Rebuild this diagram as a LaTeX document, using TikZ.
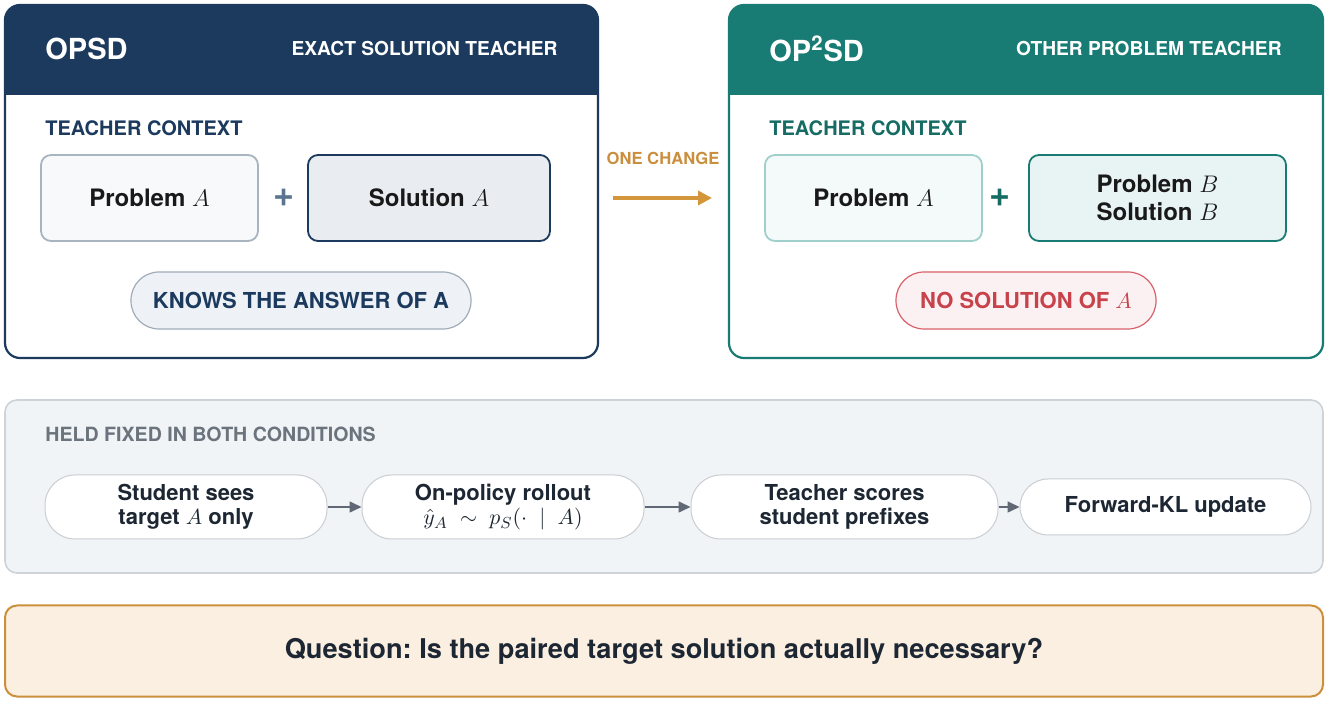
\documentclass[tikz,border=0pt]{standalone}
\usepackage{fontspec}
\setmainfont{TeX Gyre Heros}
\usetikzlibrary{arrows.meta}
\frenchspacing
\definecolor{navy}{HTML}{1B3A5E}
\definecolor{teal}{HTML}{187C74}
\definecolor{tealdk}{HTML}{166C64}
\definecolor{plusgray}{HTML}{5B7490}
\definecolor{orng}{HTML}{D4963A}
\definecolor{orngtxt}{HTML}{C98F3E}
\definecolor{redtxt}{HTML}{C8424C}
\definecolor{redline}{HTML}{D9606A}
\definecolor{redfill}{HTML}{FCF1F2}
\definecolor{panelfill}{HTML}{F1F4F7}
\definecolor{panelline}{HTML}{CDD3D8}
\definecolor{heldtxt}{HTML}{6B737C}
\definecolor{pillline}{HTML}{C9CED3}
\definecolor{darktxt}{HTML}{1D2733}
\definecolor{arrgray}{HTML}{5F6874}
\definecolor{qfill}{HTML}{FBEFE2}
\definecolor{qline}{HTML}{CC8F3B}
\definecolor{lpfill}{HTML}{F7F9FB}
\definecolor{lpline}{HTML}{A8B4C0}
\definecolor{lsfill}{HTML}{E9EDF1}
\definecolor{knfill}{HTML}{EEF1F5}
\definecolor{knline}{HTML}{A0ACB9}
\definecolor{rpfill}{HTML}{F4FAFA}
\definecolor{rpline}{HTML}{9FD0CC}
\definecolor{rsfill}{HTML}{E8F3F3}
\begin{document}
\begin{tikzpicture}[x=0.5pt,y=-0.5pt,font=\bfseries,
  txt/.style={inner sep=0pt},
  titletxt/.style={txt,text=white,font=\fontsize{14.5}{16}\selectfont\bfseries},
  subtxt/.style={txt,text=white,font=\fontsize{9.6}{11}\selectfont\bfseries},
  ctxtxt/.style={txt,font=\fontsize{10}{12}\selectfont\bfseries},
  plustxt/.style={txt,font=\fontsize{18}{18}\selectfont\bfseries},
  ctxbox/.style={rounded corners=5pt,minimum height=43pt,line width=0.9pt,
     text=black!90,font=\fontsize{12}{14}\selectfont\bfseries,align=center},
  badge/.style={rounded corners=14pt,minimum height=28.5pt,line width=0.6pt,
     font=\fontsize{11}{13}\selectfont\bfseries},
  steppill/.style={rounded corners=15pt,minimum height=32pt,line width=0.5pt,
     draw=pillline,fill=white,text=darktxt,align=center,inner sep=2pt,
     font=\fontsize{11}{12.2}\selectfont\bfseries},
  flowarr/.style={draw=arrgray,line width=0.8pt,-{Triangle[length=6pt,width=5.5pt]}}
  ]
\useasboundingbox (0,0) rectangle (1332,704);

% ---------- left panel ----------
\filldraw[fill=white,draw=navy,line width=1.1pt,rounded corners=7.5pt] (5,5) rectangle (598,358);
\fill[navy,rounded corners=7.5pt] (5,5) rectangle (598,95);
\fill[navy] (5,60) rectangle (598,95);
\node[titletxt,anchor=west] (lt) at (45,49) {OPSD};
\node[subtxt,anchor=east] (ls) at (558,49) {EXACT SOLUTION TEACHER};
\node[ctxtxt,text=navy,anchor=west] (lc) at (45,128) {TEACHER CONTEXT};
\node[ctxbox,draw=lpline,fill=lpfill,minimum width=108.5pt] (lpa) at (149.5,198) {Problem $A$};
\node[plustxt,text=plusgray] (lplus) at (284,198) {+};
\node[ctxbox,draw=navy,fill=lsfill,minimum width=121pt] (lsa) at (429,198) {Solution $A$};
\node[badge,draw=knline,fill=knfill,text=navy,minimum width=170pt] (know) at (301,300.5) {KNOWS THE ANSWER OF A};

% ---------- change arrow ----------
\coordinate (chs) at (613,198);
\coordinate (che) at (712,198);
\draw[orng,line width=1.8pt,-{Triangle[length=7pt,width=7pt]}] (chs) -- (che);
\node[txt,text=orngtxt,font=\fontsize{8.3}{10}\selectfont\bfseries] (chg) at (663,158) {ONE CHANGE};

% ---------- right panel ----------
\filldraw[fill=white,draw=teal,line width=1.1pt,rounded corners=7.5pt] (729,5) rectangle (1323,358);
\fill[teal,rounded corners=7.5pt] (729,5) rectangle (1323,95);
\fill[teal] (729,60) rectangle (1323,95);
\node[titletxt,anchor=west] (rt) at (769,49) {OP\textsuperscript{2}SD};
\node[subtxt,anchor=east] (rs) at (1282,49) {OTHER PROBLEM TEACHER};
\node[ctxtxt,text=tealdk,anchor=west] (rc) at (769,128) {TEACHER CONTEXT};
\node[ctxbox,draw=rpline,fill=rpfill,minimum width=108.5pt] (rpa) at (873.5,198) {Problem $A$};
\node[plustxt,text=tealdk] (rplus) at (1000,198) {+};
\node[ctxbox,draw=teal,fill=rsfill,minimum width=128.5pt] (rpb) at (1157.5,198) {Problem $B$\\Solution $B$};
\node[badge,draw=redline,fill=redfill,text=redtxt,minimum width=130pt] (nosol) at (1026,300.5) {NO SOLUTION OF $A$};

% ---------- held fixed panel ----------
\filldraw[fill=panelfill,draw=panelline,line width=0.8pt,rounded corners=6pt] (5,400) rectangle (1323,573);
\node[txt,text=heldtxt,anchor=west,font=\fontsize{9.8}{12}\selectfont\bfseries] (held) at (45,434) {HELD FIXED IN BOTH CONDITIONS};
\node[steppill,minimum width=141pt] (s1) at (186,507) {Student sees\\target $A$ only};
\node[steppill,minimum width=141pt] (s2) at (503,507) {On-policy rollout\\$\hat{y}_A \;\sim\; p_S(\cdot \;\mid\; A)$};
\node[steppill,minimum width=153.5pt] (s3) at (844.5,507) {Teacher scores\\student prefixes};
\node[steppill,minimum width=145.5pt,minimum height=28pt,rounded corners=14pt] (s4) at (1165.5,507) {Forward-KL update};
\draw[flowarr] (s1) -- (s2);
\draw[flowarr] (s2) -- (s3);
\draw[flowarr] (s3) -- (s4);

% ---------- question ----------
\node[draw=qline,fill=qfill,line width=1pt,rounded corners=6pt,minimum width=659pt,minimum height=45.5pt,
  text=darktxt,font=\fontsize{13.6}{16}\selectfont\bfseries] (q) at (664,651)
  {Question: Is the paired target solution actually necessary?};
\end{tikzpicture}
\end{document}
